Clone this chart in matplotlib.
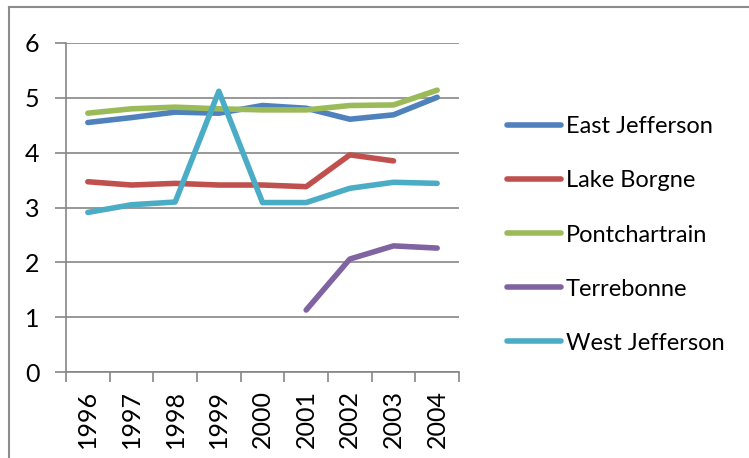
import numpy as np
import matplotlib.pyplot as plt
from matplotlib.lines import Line2D

years = ["1996", "1997", "1998", "1999", "2000", "2001", "2002", "2003", "2004"]

east_jefferson = [4.55, 4.64, 4.74, 4.72, 4.86, 4.81, 4.61, 4.69, 5.01]
lake_borgne    = [3.47, 3.41, 3.44, 3.41, 3.41, 3.38, 3.96, 3.85, np.nan]
pontchartrain  = [4.72, 4.80, 4.83, 4.80, 4.78, 4.78, 4.86, 4.87, 5.14]
terrebonne     = [np.nan, np.nan, np.nan, np.nan, np.nan, 1.13, 2.06, 2.30, 2.26]
west_jefferson = [2.91, 3.05, 3.10, 5.12, 3.09, 3.09, 3.35, 3.46, 3.44]

series = [
    ("East Jefferson", east_jefferson, "#4F81BD"),
    ("Lake Borgne", lake_borgne, "#C0504D"),
    ("Pontchartrain", pontchartrain, "#9BBB59"),
    ("Terrebonne", terrebonne, "#8064A2"),
    ("West Jefferson", west_jefferson, "#4BACC6"),
]

plt.rcParams["font.family"] = ["Lato", "DejaVu Sans"]
FS = 18

W, H = 749, 458
fig = plt.figure(figsize=(W / 100, H / 100), dpi=100)
ax = fig.add_axes([66 / W, 1 - 372 / H, (459 - 66) / W, (372 - 43) / H])

x = np.arange(len(years))
for name, vals, col in series:
    ax.plot(x, vals, color=col, lw=4, solid_capstyle="round",
            solid_joinstyle="round", label=name)

ax.set_xlim(-0.5, len(years) - 0.5)
ax.set_ylim(0, 6)
ax.set_yticks(range(0, 7))
ax.set_xticks(x)
ax.set_xticklabels(years, rotation=90)
ax.set_xticks(np.arange(-0.5, len(years)), minor=True)
ax.tick_params(axis="x", which="major", length=0, pad=13, labelsize=FS)
ax.tick_params(axis="x", which="minor", length=7, color="#868686", width=1.2)
ax.tick_params(axis="y", length=8, color="#868686", width=1.2, pad=11, labelsize=FS)

ax.yaxis.grid(True, color="#868686", lw=1.2)
ax.set_axisbelow(True)
for s in ["top", "right"]:
    ax.spines[s].set_visible(False)
for s in ["left", "bottom"]:
    ax.spines[s].set_color("#868686")
    ax.spines[s].set_linewidth(1.2)

ax.legend(loc="center left", bbox_to_anchor=(507 / W, 1 - 235 / H),
          bbox_transform=fig.transFigure, frameon=False, fontsize=17,
          handlelength=2.3, handletextpad=0.2, labelspacing=1.4,
          borderpad=0, borderaxespad=0)

# outer chart frame (top and left edges visible)
fig.add_artist(Line2D([9 / W, 1], [1 - 7 / H, 1 - 7 / H], color="#8c8c8c", lw=1.5,
                      transform=fig.transFigure))
fig.add_artist(Line2D([9 / W, 9 / W], [0, 1 - 7 / H], color="#8c8c8c", lw=1.5,
                      transform=fig.transFigure))

fig.savefig("out.png", dpi=100)
